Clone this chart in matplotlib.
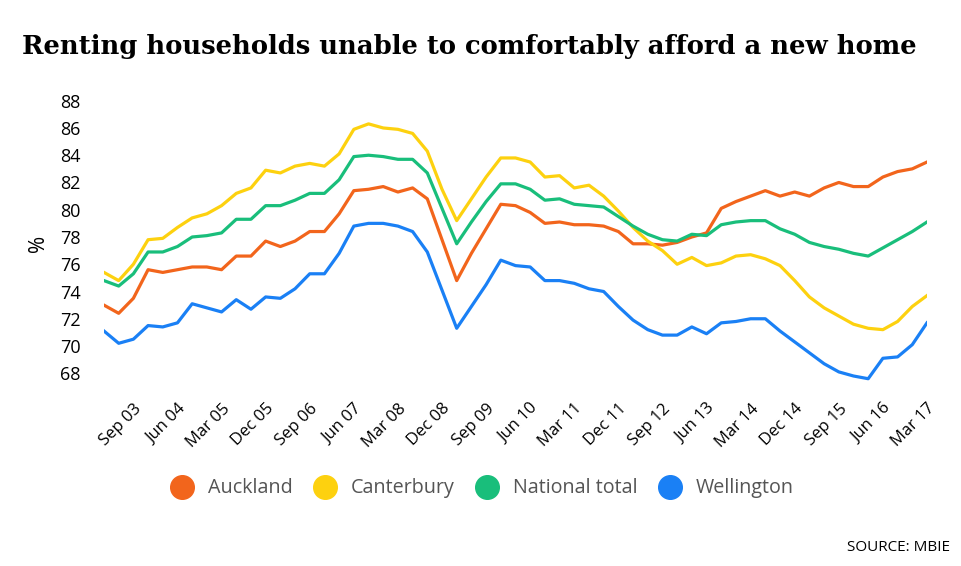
import numpy as np
import matplotlib
matplotlib.use("Agg")
import matplotlib.pyplot as plt
from matplotlib.lines import Line2D

# quarterly, Mar 03 .. Mar 17
years = list(range(2003, 2018))
months = ["Mar", "Jun", "Sep", "Dec"]
quarters = [f"{m} {str(y)[2:]}" for y in years for m in months][:57]

auckland = [73.0, 72.4, 73.5, 75.6, 75.4, 75.6, 75.8, 75.8, 75.6, 76.6,
            76.6, 77.7, 77.3, 77.7, 78.4, 78.4, 79.7, 81.4, 81.5, 81.7,
            81.3, 81.6, 80.8, 77.8, 74.8, 76.8, 78.6, 80.4, 80.3, 79.8,
            79.0, 79.1, 78.9, 78.9, 78.8, 78.4, 77.5, 77.5, 77.4, 77.6,
            78.0, 78.3, 80.1, 80.6, 81.0, 81.4, 81.0, 81.3, 81.0, 81.6,
            82.0, 81.7, 81.7, 82.4, 82.8, 83.0, 83.5]
canterbury = [75.4, 74.8, 76.0, 77.8, 77.9, 78.7, 79.4, 79.7, 80.3, 81.2,
              81.6, 82.9, 82.7, 83.2, 83.4, 83.2, 84.1, 85.9, 86.3, 86.0,
              85.9, 85.6, 84.3, 81.5, 79.2, 80.8, 82.4, 83.8, 83.8, 83.5,
              82.4, 82.5, 81.6, 81.8, 81.0, 79.9, 78.7, 77.7, 77.0, 76.0,
              76.5, 75.9, 76.1, 76.6, 76.7, 76.4, 75.9, 74.8, 73.6, 72.8,
              72.2, 71.6, 71.3, 71.2, 71.8, 72.9, 73.7]
national = [74.8, 74.4, 75.3, 76.9, 76.9, 77.3, 78.0, 78.1, 78.3, 79.3,
            79.3, 80.3, 80.3, 80.7, 81.2, 81.2, 82.2, 83.9, 84.0, 83.9,
            83.7, 83.7, 82.7, 80.1, 77.5, 79.1, 80.6, 81.9, 81.9, 81.5,
            80.7, 80.8, 80.4, 80.3, 80.2, 79.5, 78.8, 78.2, 77.8, 77.7,
            78.2, 78.1, 78.9, 79.1, 79.2, 79.2, 78.6, 78.2, 77.6, 77.3,
            77.1, 76.8, 76.6, 77.2, 77.8, 78.4, 79.1]
wellington = [71.1, 70.2, 70.5, 71.5, 71.4, 71.7, 73.1, 72.8, 72.5, 73.4,
              72.7, 73.6, 73.5, 74.2, 75.3, 75.3, 76.8, 78.8, 79.0, 79.0,
              78.8, 78.4, 76.9, 74.1, 71.3, 72.9, 74.5, 76.3, 75.9, 75.8,
              74.8, 74.8, 74.6, 74.2, 74.0, 72.9, 71.9, 71.2, 70.8, 70.8,
              71.4, 70.9, 71.7, 71.8, 72.0, 72.0, 71.1, 70.3, 69.5, 68.7,
              68.1, 67.8, 67.6, 69.1, 69.2, 70.1, 71.7]

names = ["Auckland", "Canterbury", "National total", "Wellington"]
colors = ["#F2651C", "#FDD10F", "#19BE7B", "#1A80F5"]
series = [auckland, canterbury, national, wellington]
yticks = list(range(68, 89, 2))

fig = plt.figure(figsize=(9.62, 5.66), dpi=100)
ax = fig.add_axes([0.1081, 0.3044, 0.8555, 0.5297])

x = np.arange(len(quarters))
for s, c in zip(series, colors):
    ax.plot(x, s, color=c, lw=2.3, solid_joinstyle="round")

ax.set_xlim(0, len(quarters) - 1)
ax.set_ylim(66.5, 88.5)
ax.set_yticks(yticks)
ax.set_yticklabels([str(t) for t in yticks], fontsize=13, family="Open Sans")
ax.set_xticks(x[2::3])
ax.set_xticklabels([quarters[i] for i in x[2::3]], rotation=45, ha="right",
                   rotation_mode="anchor", fontsize=12, family="Open Sans")
ax.tick_params(axis="both", length=0)
ax.tick_params(axis="y", pad=17)
ax.tick_params(axis="x", pad=5)
for sp in ax.spines.values():
    sp.set_visible(False)
ax.set_ylabel("%", fontsize=15, family="Open Sans", labelpad=8)

fig.text(0.023, 0.905, "Renting households unable to comfortably afford a new home",
         fontsize=18.6, fontweight="bold", family="DejaVu Serif", va="baseline")

handles = [Line2D([], [], marker="o", ls="", ms=17, color=c) for c in colors]
fig.legend(handles, names, loc="center", bbox_to_anchor=(0.497, 0.137), ncol=4,
           frameon=False, handletextpad=0.3, columnspacing=0.65,
           prop={"family": "Open Sans", "size": 14.2}, labelcolor="#555555")

fig.text(0.988, 0.027, "SOURCE: MBIE", ha="right", fontsize=11, family="Open Sans")

fig.savefig("out.png", dpi=100)
